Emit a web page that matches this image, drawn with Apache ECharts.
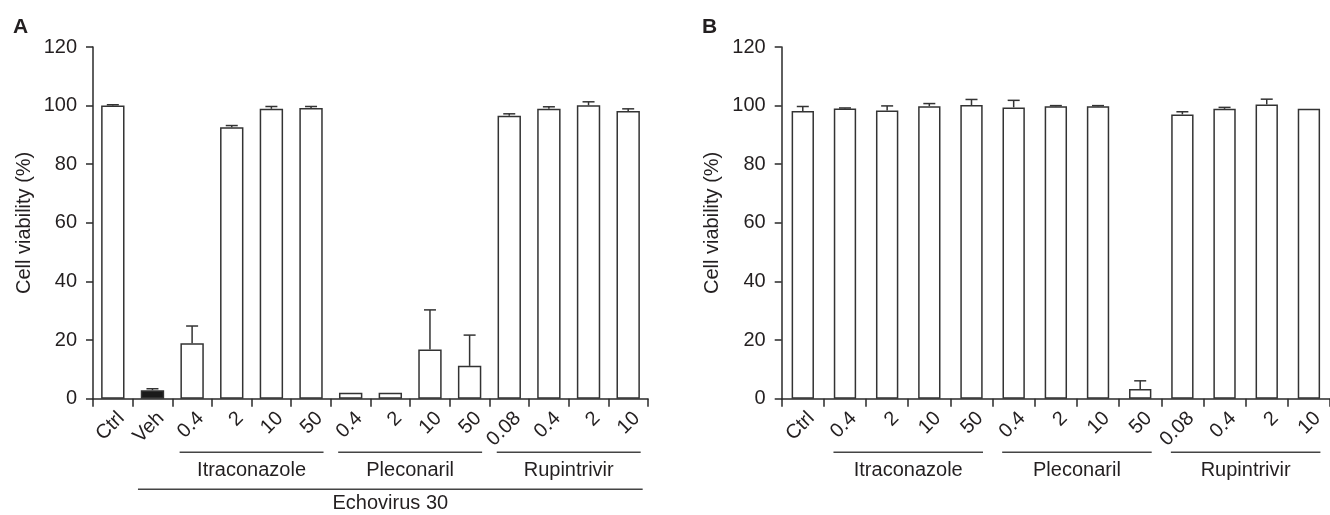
<!DOCTYPE html>
<html><head><meta charset="utf-8">
<script src="https://cdn.jsdelivr.net/npm/echarts@6.0.0/dist/echarts.min.js"></script>
<style>html,body{margin:0;padding:0;background:#fff}#c{width:1330px;height:515px}</style>
</head><body><div id="c"></div>
<script>
// ---- Panel A data ----
const catsA = ['Ctrl','Veh','0.4','2','10','50','0.4','2','10','50','0.08','0.4','2','10'];
const valsA = [100.0, 2.9, 18.9, 92.6, 98.9, 99.2, 2.0, 2.0, 16.8, 11.2, 96.5, 98.9, 100.1, 98.2];
const errA  = [0.3, 0.5, 5.9, 0.6, 0.8, 0.5, 0, 0, 13.5, 10.5, 0.7, 0.7, 1.2, 0.7];
const vehIndexA = 1;
const groupNamesA = ['Itraconazole','Pleconaril','Rupintrivir'];
const groupStartA = [2, 6, 10];
const groupEndA   = [5, 9, 13];
const outerNameA = 'Echovirus 30';
const outerStartA = 1, outerEndA = 13;
// ---- Panel B data ----
const catsB = ['Ctrl','0.4','2','10','50','0.4','2','10','50','0.08','0.4','2','10'];
const valsB = [98.2, 99.0, 98.3, 99.8, 100.2, 99.4, 99.8, 99.8, 3.3, 97.0, 98.9, 100.4, 98.9];
const errB  = [1.5, 0.2, 1.6, 0.9, 1.9, 2.4, 0.2, 0.2, 2.8, 0.9, 0.5, 1.8, 0];
const groupNamesB = ['Itraconazole','Pleconaril','Rupintrivir'];
const groupStartB = [1, 5, 9];
const groupEndB   = [4, 8, 12];
// ---- Axis ----
const yMin = 0, yMax = 120, yStep = 20;
const yTitle = 'Cell viability (%)';

const FONT = '"Liberation Sans", Arial, Helvetica, sans-serif';
const TXT = '#231f20';
const LINE = '#2a2a2a';

const chart = echarts.init(document.getElementById('c'), null, {renderer:'canvas'});

function xAxis(gi, cats){
  return {type:'category', gridIndex:gi, data:cats,
    axisLine:{lineStyle:{color:LINE, width:1.5}},
    axisTick:{show:true, length:8, lineStyle:{color:LINE, width:1.5}},
    axisLabel:{rotate:45, interval:0, margin:25, padding:[0,-12,0,0], fontSize:20, fontFamily:FONT, color:TXT}};
}
function yAxis(gi){
  return {type:'value', gridIndex:gi, min:yMin, max:yMax, interval:yStep,
    splitLine:{show:false},
    axisLine:{show:true, lineStyle:{color:LINE, width:1.5}},
    axisTick:{show:true, length:7, lineStyle:{color:LINE, width:1.5}},
    axisLabel:{fontSize:20, margin:16, fontFamily:FONT, color:TXT},
    name:yTitle, nameLocation:'middle', nameGap:59,
    nameTextStyle:{fontSize:20, fontFamily:FONT, color:TXT}};
}
function errRender(params, api){
  const i = api.value(0), v = api.value(1), e = api.value(2);
  if (!(e > 0)) return null;
  const p0 = api.coord([i, v]);
  const p1 = api.coord([i, v + e]);
  const hw = 6;
  const st = {stroke:'#333', lineWidth:1.5};
  return {type:'group', children:[
    {type:'line', shape:{x1:p0[0], y1:p0[1], x2:p1[0], y2:p1[1]}, style:st},
    {type:'line', shape:{x1:p1[0]-hw, y1:p1[1], x2:p1[0]+hw, y2:p1[1]}, style:st}
  ]};
}
function barSeries(gi, vals, blackIdx, bw){
  return {type:'bar', xAxisIndex:gi, yAxisIndex:gi, barWidth:bw,
    data: vals.map((v,i)=>({value:v, itemStyle:{color: i===blackIdx ? '#1a1a1a' : '#ffffff'}})),
    itemStyle:{borderColor:'#333', borderWidth:1.5}, silent:true};
}
function errSeries(gi, vals, errs){
  return {type:'custom', xAxisIndex:gi, yAxisIndex:gi, renderItem:errRender,
    encode:{x:0, y:1}, data: vals.map((v,i)=>[i, v, errs[i]]), z:5, silent:true};
}

chart.setOption({
  animation:false,
  backgroundColor:'#fff',
  grid:[
    {left:93, top:47, width:555, height:351.7},
    {left:781.7, top:47, width:554.7, height:351.7}
  ],
  xAxis:[xAxis(0, catsA), xAxis(1, catsB)],
  yAxis:[yAxis(0), yAxis(1)],
  series:[
    barSeries(0, valsA, vehIndexA, '59%'),
    errSeries(0, valsA, errA),
    barSeries(1, valsB, -1, '53%'),
    errSeries(1, valsB, errB)
  ]
});

const g = [];
function bracket(gi, from, to, pad, dLine, dText, label){
  const a = chart.convertToPixel({gridIndex:gi}, [from, 0]);
  const b = chart.convertToPixel({gridIndex:gi}, [to, 0]);
  const y0 = a[1];
  g.push({type:'line', silent:true, shape:{x1:a[0]-pad, y1:y0+dLine, x2:b[0]+pad, y2:y0+dLine},
    style:{stroke:'#444', lineWidth:1.5}});
  g.push({type:'text', silent:true, x:(a[0]+b[0])/2, y:y0+dText,
    style:{text:label, fontSize:20, fontFamily:FONT, fill:TXT, align:'center', verticalAlign:'middle'}});
}
groupNamesA.forEach((n,k)=>bracket(0, groupStartA[k], groupEndA[k], 12.5, 53.6, 71.3, n));
bracket(0, outerStartA, outerEndA, 14.5, 90.6, 104.3, outerNameA);
groupNamesB.forEach((n,k)=>bracket(1, groupStartB[k], groupEndB[k], 11.5, 53.6, 71.3, n));
g.push({type:'text', left:13, top:17, style:{text:'A', fontSize:21, fontWeight:'bold', fontFamily:FONT, fill:TXT}});
g.push({type:'text', left:702, top:17, style:{text:'B', fontSize:21, fontWeight:'bold', fontFamily:FONT, fill:TXT}});
chart.setOption({graphic:g});
</script></body></html>
